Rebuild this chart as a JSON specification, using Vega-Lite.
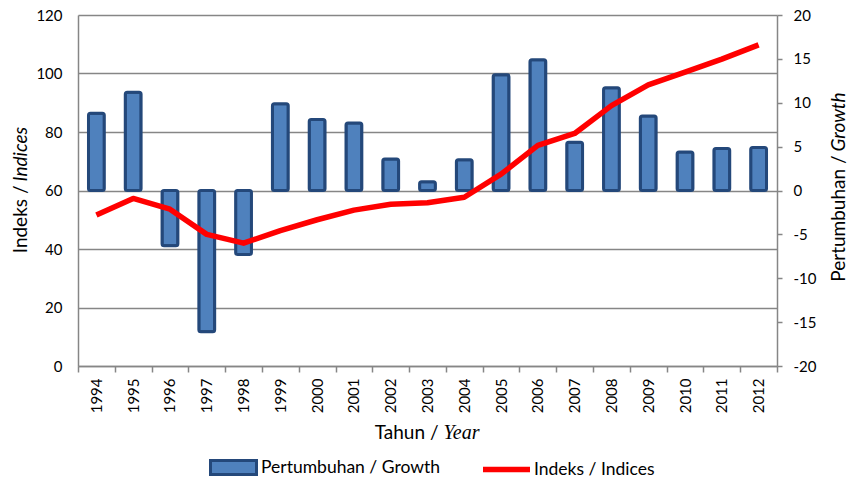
{
  "$schema": "https://vega.github.io/schema/vega-lite/v6.json",
  "width": 699,
  "height": 351,
  "autosize": {"type": "none"},
  "padding": {"left": 78, "top": 15, "right": 71, "bottom": 114},
  "background": "white",
  "config": {
    "view": {"stroke": null},
    "font": "Lato",
    "axis": {
      "labelColor": "#000",
      "titleColor": "#000",
      "domainColor": "#868686",
      "tickColor": "#868686",
      "gridColor": "#868686",
      "labelFont": "Lato",
      "titleFont": "Lato",
      "titleFontWeight": "normal"
    }
  },
  "data": {
    "values": [
      {"year": "1994", "growth": 8.8, "index": 51.6},
      {"year": "1995", "growth": 11.2, "index": 57.3},
      {"year": "1996", "growth": -6.3, "index": 53.6},
      {"year": "1997", "growth": -16.1, "index": 45.0},
      {"year": "1998", "growth": -7.3, "index": 42.0},
      {"year": "1999", "growth": 9.9, "index": 46.3},
      {"year": "2000", "growth": 8.1, "index": 50.0},
      {"year": "2001", "growth": 7.7, "index": 53.3},
      {"year": "2002", "growth": 3.6, "index": 55.3},
      {"year": "2003", "growth": 1.0, "index": 55.8},
      {"year": "2004", "growth": 3.5, "index": 57.7},
      {"year": "2005", "growth": 13.2, "index": 65.6},
      {"year": "2006", "growth": 14.9, "index": 75.4},
      {"year": "2007", "growth": 5.5, "index": 79.5},
      {"year": "2008", "growth": 11.7, "index": 89.0},
      {"year": "2009", "growth": 8.5, "index": 96.1},
      {"year": "2010", "growth": 4.4, "index": 100.5},
      {"year": "2011", "growth": 4.8, "index": 104.9},
      {"year": "2012", "growth": 4.9, "index": 109.8}
    ]
  },
  "layer": [
    {
      "mark": {"type": "bar", "width": {"band": 0.43}, "stroke": "#24487A", "strokeWidth": 3, "cornerRadius": 2},
      "encoding": {
        "x": {
          "field": "year", "type": "ordinal",
          "scale": {"paddingInner": 0, "paddingOuter": 0},
          "axis": {
            "orient": "bottom",
            "title": "Tahun /", "labelAngle": -90, "labelFontSize": 15, "labelPadding": 6,
            "tickBand": "extent", "tickSize": 6, "domainWidth": 1.5, "tickWidth": 1.5,
            "titleFontSize": 19, "titleX": 360, "titleY": 66, "titleAlign": "right", "titleBaseline": "middle"
          }
        },
        "y": {
          "field": "growth", "type": "quantitative",
          "scale": {"domain": [-20, 20], "nice": false},
          "axis": {
            "orient": "right", "values": [-20, -15, -10, -5, 0, 5, 10, 15, 20], "grid": false,
            "labelExpr": "'' + datum.value",
            "labelFontSize": 15, "tickSize": 5, "labelPadding": 11, "domainWidth": 1.5, "tickWidth": 1.5,
            "title": "Pertumbuhan /", "titleFontSize": 19, "titleAngle": -90, "titleAlign": "right", "titleBaseline": "middle",
            "titleX": 61, "titleY": 140
          }
        },
        "fill": {
          "datum": "Pertumbuhan / Growth",
          "scale": {"range": ["#4F81BD"]},
          "legend": {
            "orient": "none", "legendX": 131, "legendY": 428, "direction": "horizontal", "title": null,
            "symbolType": "M-1,-0.3H1V0.3H-1Z", "symbolSize": 2116, "symbolStrokeColor": "#24487A", "symbolStrokeWidth": 3,
            "labelFontSize": 17.5, "labelColor": "#000", "labelOffset": 3, "labelLimit": 400, "padding": 0
          }
        }
      }
    },
    {
      "mark": {"type": "line", "color": "#FF0000", "strokeWidth": 5.5, "strokeJoin": "round"},
      "encoding": {
        "x": {
          "field": "year", "type": "ordinal",
          "axis": {
            "orient": "bottom",
            "title": "Year", "labels": false, "ticks": false, "domain": false, "grid": false,
            "titleFont": "Liberation Serif", "titleFontStyle": "italic", "titleFontSize": 20,
            "titleX": 365, "titleY": 66, "titleAlign": "left", "titleBaseline": "middle"
          }
        },
        "y": {
          "field": "index", "type": "quantitative",
          "scale": {"domain": [0, 120], "nice": false},
          "axis": {
            "orient": "left", "values": [0, 20, 40, 60, 80, 100, 120], "grid": true, "gridWidth": 1.3,
            "ticks": false, "tickSize": 0, "labelPadding": 16, "labelFontSize": 15, "domainWidth": 1.5,
            "title": "Indeks /", "titleFontSize": 19, "titleAngle": -90, "titleAlign": "right", "titleBaseline": "middle",
            "titleX": -58, "titleY": 170
          }
        },
        "stroke": {
          "datum": "Indeks / Indices",
          "scale": {"range": ["#FF0000"]},
          "legend": {
            "orient": "none", "legendX": 402, "legendY": 428, "direction": "horizontal", "title": null,
            "symbolType": "stroke", "symbolSize": 2209, "symbolStrokeWidth": 5.5,
            "labelFontSize": 17.5, "labelColor": "#000", "labelOffset": 1, "labelLimit": 400, "padding": 0
          }
        }
      }
    },
    {
      "mark": {"type": "line", "strokeOpacity": 0},
      "encoding": {
        "x": {"field": "year", "type": "ordinal", "axis": null},
        "y": {
          "field": "index", "type": "quantitative",
          "scale": {"domain": [0, 120], "nice": false},
          "axis": {
            "orient": "left", "labels": false, "ticks": false, "domain": false, "grid": false,
            "title": "Indices", "titleFontSize": 19, "titleFontStyle": "italic", "titleAngle": -90, "titleAlign": "left", "titleBaseline": "middle",
            "titleX": -58, "titleY": 166
          }
        }
      }
    },
    {
      "mark": {"type": "bar", "opacity": 0},
      "encoding": {
        "x": {"field": "year", "type": "ordinal", "axis": null},
        "y": {
          "field": "growth", "type": "quantitative",
          "scale": {"domain": [-20, 20], "nice": false},
          "axis": {
            "orient": "right", "labels": false, "ticks": false, "domain": false, "grid": false,
            "title": "Growth", "titleFontSize": 19, "titleFontStyle": "italic", "titleAngle": -90, "titleAlign": "left", "titleBaseline": "middle",
            "titleX": 61, "titleY": 136
          }
        }
      }
    }
  ],
  "resolve": {"scale": {"y": "independent"}, "axis": {"x": "independent", "y": "independent"}}
}
